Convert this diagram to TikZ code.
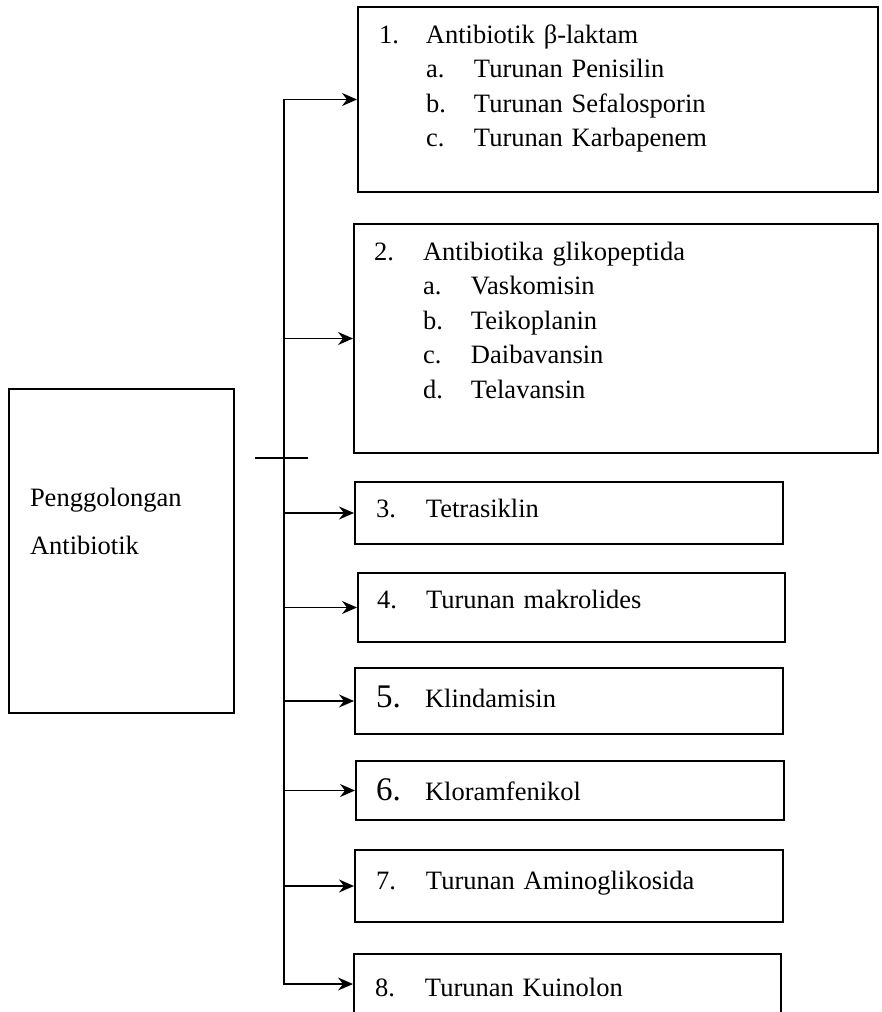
\documentclass[tikz,border=0pt]{standalone}
\usepackage{fontspec}
\setmainfont{Liberation Serif}
\usetikzlibrary{arrows.meta}

\begin{document}
\begin{tikzpicture}[x=0.5pt, y=-0.5pt,
  box/.style={draw, line width=1pt, anchor=north west, inner xsep=10.5pt, inner ysep=0pt, align=left, font=\fontsize{13.25}{17.25}\selectfont},
  line/.style={line width=0.8pt},
  tip/.tip={Stealth[length=7.5pt, width=6.5pt, inset=2.5pt]},
  arr/.style={line, -tip}]
\useasboundingbox (0,0) rectangle (882,1012);
\clip (0,0) rectangle (882,1012);
\node [box, text width=91.5pt, text height=58.5pt, text depth=103.5pt, font=\fontsize{13.25}{24}\selectfont] (main) at (8,388) {Penggolongan\\Antibiotik};
\node [box, text width=239pt, text height=18pt, text depth=74.5pt] (b1) at (357,6) {\makebox[23.5pt][l]{1.}Antibiotik β-laktam\\\hspace*{23.5pt}\makebox[24pt][l]{a.}Turunan Penisilin\\\hspace*{23.5pt}\makebox[24pt][l]{b.}Turunan Sefalosporin\\\hspace*{23.5pt}\makebox[24pt][l]{c.}Turunan Karbapenem};
\node [box, inner xsep=10pt, text width=242pt, text height=18pt, text depth=96.5pt] (b2) at (353,223) {\makebox[24.5pt][l]{2.}Antibiotika glikopeptida\\\hspace*{24.5pt}\makebox[24pt][l]{a.}Vaskomisin\\\hspace*{24.5pt}\makebox[24pt][l]{b.}Teikoplanin\\\hspace*{24.5pt}\makebox[24pt][l]{c.}Daibavansin\\\hspace*{24.5pt}\makebox[24pt][l]{d.}Telavansin};
\node [box, text width=193pt, text height=17.5pt, text depth=13.5pt] (b3) at (354,481) {\makebox[25pt][l]{3.}Tetrasiklin};
\node [box, inner xsep=9.5pt, text width=194.5pt, text height=17.5pt, text depth=17pt] (b4) at (357,572) {\makebox[24.5pt][l]{4.}Turunan makrolides};
\node [box, text width=193pt, text height=19.5pt, text depth=13.5pt] (b5) at (354,667) {\makebox[24.5pt][l]{\fontsize{16.5}{17.25}\selectfont 5.}Klindamisin};
\node [box, inner xsep=10pt, text width=194pt, text height=19.5pt, text depth=10pt] (b6) at (355,760) {\makebox[24.5pt][l]{\fontsize{16.5}{17.25}\selectfont 6.}Kloramfenikol};
\node [box, text width=193pt, text height=19.5pt, text depth=16.5pt] (b7) at (354,849) {\makebox[25pt][l]{7.}Turunan Aminoglikosida};
\node [box, text width=192.5pt, text height=21pt, text depth=9pt] (b8) at (353,953) {\makebox[25pt][l]{8.}Turunan Kuinolon};
\coordinate (trunk) at (284,0);
\coordinate (tickl) at (255,458);
\coordinate (tickr) at (308,458);
\draw [line, tip-tip] (b8.west) -- (trunk |- b8.west) -- (trunk |- b1.west) -- (b1.west);
\draw [arr] (trunk |- b2.west) -- (b2.west);
\draw [arr] (trunk |- b3.west) -- (b3.west);
\draw [arr] (trunk |- b4.west) -- (b4.west);
\draw [arr] (trunk |- b5.west) -- (b5.west);
\draw [arr] (trunk |- b6.west) -- (b6.west);
\draw [arr] (trunk |- b7.west) -- (b7.west);
\draw [line] (tickl) -- (tickr);
\end{tikzpicture}
\end{document}
